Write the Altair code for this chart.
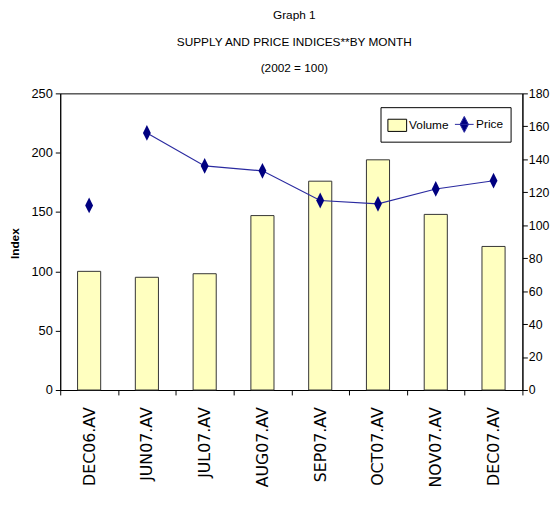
import altair as alt
import pandas as pd

months = ["DEC06.AV", "JUN07.AV", "JUL07.AV", "AUG07.AV", "SEP07.AV", "OCT07.AV", "NOV07.AV", "DEC07.AV"]
volume = [100, 95, 98, 147, 176, 194, 148, 121]
price = [112, 156, 136, 133, 115, 113, 122, 127]
connected = [False, True, True, True, True, True, True, True]
left_ticks = [0, 50, 100, 150, 200, 250]
right_ticks = [0, 20, 40, 60, 80, 100, 120, 140, 160, 180]

df = pd.DataFrame({
    "month": months,
    "volume": volume,
    "price": price,
    "connected": connected,
    "series": ["Volume"] * len(months),
})

NARROW = "'Liberation Sans Narrow', 'Arial Narrow', 'Liberation Sans', Arial, sans-serif"

x = alt.X(
    "month:N", sort=months,
    scale=alt.Scale(paddingInner=0, paddingOuter=0),
    axis=alt.Axis(title=None, labelAngle=270, labelFont="DejaVu Sans", labelFontSize=16,
                  labelColor="black", tickBand="extent", tickSize=5, tickColor="black",
                  domainColor="black", labelPadding=12, labelLimit=200),
)

y_vol = alt.Y("volume:Q", scale=alt.Scale(domain=[0, 250], nice=False),
              axis=alt.Axis(values=left_ticks, title="Index", titleFont="Liberation Sans",
                            titleFontWeight="bold", titleFontSize=12, titleColor="black",
                            titleX=-39, titleY=152, labelFont=NARROW, labelFontSize=13,
                            labelColor="black", tickColor="black", domainColor="black",
                            tickSize=5, labelPadding=3, grid=False))

y_price = alt.Y("price:Q", scale=alt.Scale(domain=[0, 180], nice=False),
                axis=alt.Axis(orient="right", values=right_ticks, title=None, labelFont=NARROW,
                              labelFontSize=12.5, labelColor="black", tickColor="black",
                              domainColor="black", tickSize=5, labelPadding=1, grid=False))

bar_w = alt.RelativeBandSize(0.4)

bars = alt.Chart(df).mark_bar(width=bar_w).encode(
    x=x,
    y=y_vol,
    color=alt.Color(
        "series:N",
        scale=alt.Scale(domain=["Volume", "Price"], range=["#FFFFC0", "#000080"]),
        legend=alt.Legend(
            title=None, orient="none", legendX=325, legendY=14, direction="horizontal",
            symbolType=alt.ExprRef(expr="datum.value === 'Price' ? 'M-1,0L1,0M0,-0.85L0.45,0L0,0.85L-0.45,0Z' : 'M-1,-0.65L1,-0.65L1,0.65L-1,0.65Z'"),
            symbolSize=361,
            symbolStrokeColor=alt.ExprRef(expr="datum.value === 'Price' ? '#2a2aa0' : '#000000'"),
            symbolStrokeWidth=1, strokeColor="black", fillColor="white", padding=7,
            labelFont=NARROW, labelFontSize=12, labelColor="black", columnPadding=3,
            labelOffset=2,
        ),
    ),
)

outline = alt.Chart(df).mark_bar(width=bar_w, fillOpacity=0, stroke="#333333", strokeWidth=1).encode(
    x=x,
    y=y_vol,
)

line = alt.Chart(df).transform_filter("datum.connected").mark_line(color="#2a2aa0", strokeWidth=1.2).encode(
    x=x,
    y=y_price,
)

points = alt.Chart(df).mark_point(shape="M0,-1L0.5,0L0,1L-0.5,0Z", size=256, filled=True,
                                  color="#000080", opacity=1).encode(
    x=x,
    y=y_price,
)

chart = alt.layer(
    alt.layer(bars, outline),
    alt.layer(line, points),
).resolve_scale(y="independent").properties(
    width=469, height=301,
    title=alt.TitleParams(
        text=["Graph 1", "SUPPLY AND PRICE INDICES**BY MONTH", "(2002 = 100)"],
        font=NARROW, fontSize=12, fontWeight="normal", color="black",
        anchor="middle", baseline="bottom", lineHeight=26.5, offset=3, dx=3, dy=2,
    ),
    autosize=alt.AutoSizeParams(type="none"),
    padding={"left": 53, "top": 83, "right": 29, "bottom": 110},
    background="white",
).configure_view(stroke="black", strokeWidth=1)

chart.save("out.html", embed_options={"renderer": "svg", "actions": False})
